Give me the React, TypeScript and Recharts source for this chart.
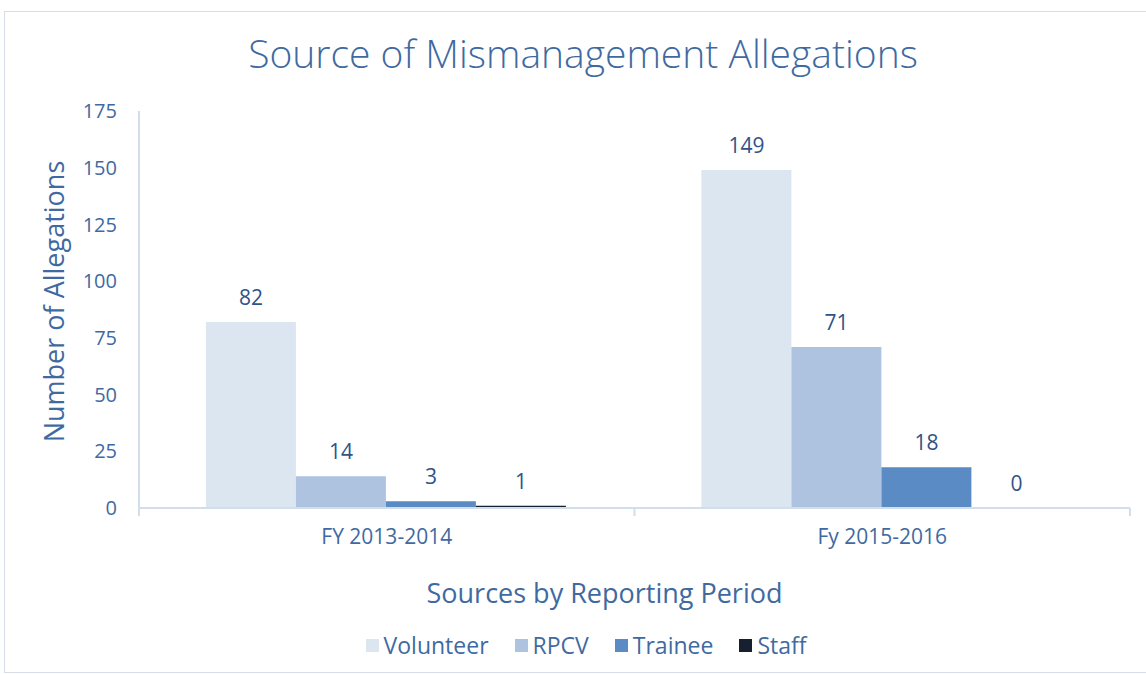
import { Bar, BarChart, Label, LabelList, Legend, Rectangle, XAxis, YAxis } from 'recharts';

const periods = ['FY 2013-2014', 'Fy 2015-2016'];
const volunteer = [82, 149];
const rpcv = [14, 71];
const trainee = [3, 18];
const staff = [1, 0];
const yTicks = [0, 25, 50, 75, 100, 125, 150, 175];

const data = periods.map((name, i) => ({
  name,
  Volunteer: volunteer[i],
  RPCV: rpcv[i],
  Trainee: trainee[i],
  Staff: staff[i],
}));

const textBlue = '#3f6aa1';
const axisColor = '#d3deed';
const font = '"Open Sans", Lato, sans-serif';

const series = [
  { key: 'Volunteer', color: '#dce6f1' },
  { key: 'RPCV', color: '#adc3e0' },
  { key: 'Trainee', color: '#5b8bc4' },
  { key: 'Staff', color: '#16202e' },
];

const tickGap = 21;

// zero-height bars draw nothing, but keep their label
const BarShape = (props: any) => (props.height < 0.5 ? <g /> : <Rectangle {...props} />);

// category label plus tick marks on the band edges, like Excel
const CategoryTick = (props: any) => {
  const { x, y, payload, index, visibleTicksCount } = props;
  const half = payload.offset || 0;
  const top = y - tickGap;
  return (
    <g>
      <line x1={x - half} x2={x - half} y1={top} y2={top + 8} stroke={axisColor} strokeWidth={2} />
      {index === visibleTicksCount - 1 && (
        <line x1={x + half} x2={x + half} y1={top} y2={top + 8} stroke={axisColor} strokeWidth={2} />
      )}
      <text x={x} y={y} dy='0.71em' textAnchor='middle' fill={textBlue} fontSize={21} fontFamily={font}>
        {payload.value}
      </text>
    </g>
  );
};

const LegendContent = () => (
  <div style={{ display: 'flex', justifyContent: 'center', gap: 26, fontFamily: font, fontSize: 23, color: textBlue, marginLeft: 12 }}>
    {series.map((s) => (
      <span key={s.key} style={{ display: 'flex', alignItems: 'center', gap: 5 }}>
        <span style={{ width: 13, height: 13, background: s.color, display: 'inline-block' }} />
        {s.key}
      </span>
    ))}
  </div>
);

function App() {
  return (
    <div style={{ position: 'absolute', left: 0, top: 0, width: 1146, height: 674, background: '#fff', fontFamily: font }}>
      <div
        style={{
          position: 'absolute',
          left: 4,
          top: 11,
          width: 1160,
          height: 660,
          border: '1px solid #d6dde8',
        }}
      />
      <div
        style={{
          position: 'absolute',
          top: 26,
          left: 0,
          width: 1166,
          textAlign: 'center',
          fontSize: 39,
          color: textBlue,
          fontWeight: 300,
        }}
      >
        Source of Mismanagement Allegations
      </div>
      <BarChart
        width={1146}
        height={674}
        data={data}
        margin={{ top: 111, right: 16, left: 30, bottom: 13 }}
        barCategoryGap='13.5%'
        barGap={0}
        style={{ position: 'absolute', left: 0, top: 0 }}
      >
        <XAxis
          dataKey='name'
          height={121}
          tickLine={false}
          tickSize={0}
          axisLine={{ stroke: axisColor, strokeWidth: 2 }}
          tick={<CategoryTick />}
          tickMargin={tickGap}
        >
          <Label value='Sources by Reporting Period' position='insideBottom' offset={26} dx={-30} fill={textBlue} fontSize={27} fontFamily={font} />
        </XAxis>
        <YAxis
          domain={[0, 175]}
          ticks={yTicks}
          width={109}
          tickLine={false}
          axisLine={{ stroke: axisColor, strokeWidth: 2 }}
          tick={{ fill: textBlue, fontSize: 20, fontFamily: font }}
          tickMargin={16}
        >
          <Label value='Number of Allegations' angle={-90} position='insideLeft' offset={24} dy={-8} style={{ textAnchor: 'middle' }} fill={textBlue} fontSize={27} fontFamily={font} />
        </YAxis>
        <Legend verticalAlign='bottom' align='center' content={<LegendContent />} />
        {series.map((s) => (
          <Bar key={s.key} dataKey={s.key} fill={s.color} isAnimationActive={false} shape={<BarShape />}>
            <LabelList dataKey={s.key} position='top' offset={17} fill='#2f5388' fontSize={21} fontFamily={font} />
          </Bar>
        ))}
      </BarChart>
    </div>
  );
}

export default App;
